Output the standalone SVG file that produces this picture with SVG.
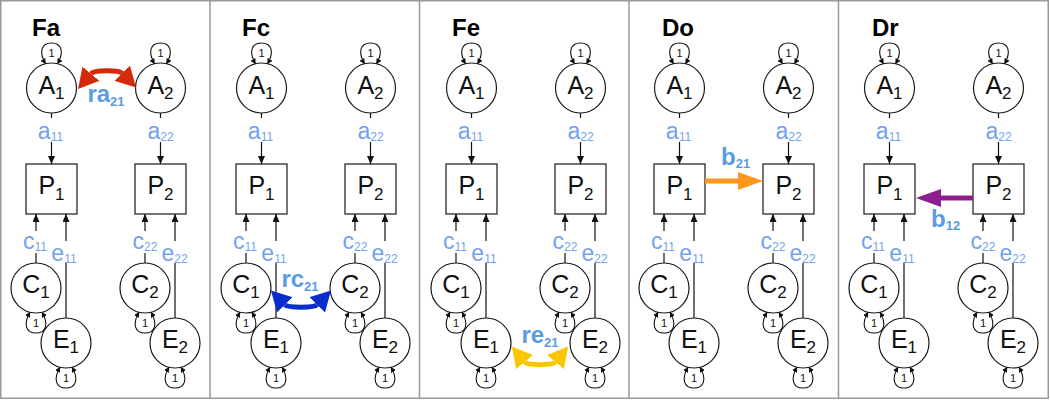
<svg xmlns="http://www.w3.org/2000/svg" width="1050" height="400" viewBox="0 0 1050 400">
<style>
.frame{fill:none;stroke:#9a9a9a;stroke-width:1.5}
.sep{stroke:#9a9a9a;stroke-width:1.5}
.node circle,.node rect{fill:#fff;stroke:#1a1a1a;stroke-width:1.2}
.nl{font-family:"Liberation Sans",Arial,sans-serif;font-size:25px;text-anchor:middle;fill:#111}
.ns{font-size:17px}
.title{font-family:"Liberation Sans",Arial,sans-serif;font-size:24px;font-weight:bold;fill:#000}
.pl{font-family:"Liberation Sans",Arial,sans-serif;font-size:23px;fill:#72a2ef;text-anchor:middle}
.ps{font-size:12px}
.bl{font-family:"Liberation Sans",Arial,sans-serif;font-size:24px;font-weight:bold;fill:#5b9be2}
.bs{font-size:13px}
.conn{fill:none;stroke:#111;stroke-width:1.2}
.loop{fill:none;stroke:#111;stroke-width:1.1}
.one{font-family:"Liberation Sans",Arial,sans-serif;font-size:11px;text-anchor:middle;fill:#111}
.thick{fill:none;stroke-width:5}
</style>
<defs>
<marker id="ah" markerUnits="userSpaceOnUse" markerWidth="8" markerHeight="7" refX="8" refY="3.5" orient="auto"><path d="M0,0 L8,3.5 L0,7 z" fill="#111"/></marker>
<marker id="lh" markerUnits="userSpaceOnUse" markerWidth="5.5" markerHeight="5.6" refX="5" refY="2.8" orient="auto-start-reverse"><path d="M0,0 L5.5,2.8 L0,5.6 z" fill="#111"/></marker>
<marker id="mred" markerUnits="userSpaceOnUse" markerWidth="20" markerHeight="22" refX="0" refY="11" orient="auto-start-reverse"><path d="M0,0 L20,11 L0,22 z" fill="#d42a0c"/></marker>
<marker id="mblue" markerUnits="userSpaceOnUse" markerWidth="20" markerHeight="22" refX="0" refY="11" orient="auto-start-reverse"><path d="M0,0 L20,11 L0,22 z" fill="#0b2dcc"/></marker>
<marker id="myel" markerUnits="userSpaceOnUse" markerWidth="20" markerHeight="22" refX="0" refY="11" orient="auto-start-reverse"><path d="M0,0 L20,11 L0,22 z" fill="#f9c600"/></marker>
<marker id="morg" markerUnits="userSpaceOnUse" markerWidth="25" markerHeight="18" refX="0" refY="9" orient="auto"><path d="M0,0 L25,9 L0,18 z" fill="#ff961e"/></marker>
<marker id="mpur" markerUnits="userSpaceOnUse" markerWidth="25" markerHeight="18" refX="0" refY="9" orient="auto"><path d="M0,0 L25,9 L0,18 z" fill="#8c1e8e"/></marker>
</defs>
<rect class="frame" x="0.75" y="0.75" width="1047.5" height="397.5"/>
<line class="sep" x1="210" y1="0" x2="210" y2="399"/>
<line class="sep" x1="419.5" y1="0" x2="419.5" y2="399"/>
<line class="sep" x1="629" y1="0" x2="629" y2="399"/>
<line class="sep" x1="838.5" y1="0" x2="838.5" y2="399"/>

<!-- Panel Fa -->
<g id="panel-fa" transform="translate(0,0)">
<text class="title" x="32" y="36">Fa</text>
<g id="fa-A1" class="node" transform="translate(51.5,88)"><circle r="25"/><text class="nl" y="6">A<tspan class="ns" dy="5">1</tspan></text></g>
<g id="fa-A2" class="node" transform="translate(160.5,88)"><circle r="25"/><text class="nl" y="6">A<tspan class="ns" dy="5">2</tspan></text></g>
<g id="fa-P1" class="node" transform="translate(51.5,189)"><rect x="-25.5" y="-25" width="51" height="50"/><text class="nl" y="5">P<tspan class="ns" dy="6">1</tspan></text></g>
<g id="fa-P2" class="node" transform="translate(160.5,189)"><rect x="-25.5" y="-25" width="51" height="50"/><text class="nl" y="5">P<tspan class="ns" dy="6">2</tspan></text></g>
<g id="fa-C1" class="node" transform="translate(36,288)"><circle r="25"/><text class="nl" y="5">C<tspan class="ns" dy="5">1</tspan></text></g>
<g id="fa-C2" class="node" transform="translate(145,288)"><circle r="25"/><text class="nl" y="5">C<tspan class="ns" dy="5">2</tspan></text></g>
<g id="fa-E1" class="node" transform="translate(66,343)"><circle r="25"/><text class="nl" y="5">E<tspan class="ns" dy="5">1</tspan></text></g>
<g id="fa-E2" class="node" transform="translate(175,343)"><circle r="25"/><text class="nl" y="5">E<tspan class="ns" dy="5">2</tspan></text></g>
<g id="fa-connectors">
<path class="conn" marker-end="url(#ah)" d="M51.5,113 V118 M51.5,142 V164"/>
<path class="conn" marker-end="url(#ah)" d="M160.5,113 V118 M160.5,142 V164"/>
<path class="conn" marker-end="url(#ah)" d="M36,263 V253 M36,231 V214"/>
<path class="conn" marker-end="url(#ah)" d="M66,318 V263 M66,241 V214"/>
<path class="conn" marker-end="url(#ah)" d="M145,263 V253 M145,231 V214"/>
<path class="conn" marker-end="url(#ah)" d="M175,318 V263 M175,241 V214"/>
<path class="loop" marker-start="url(#lh)" marker-end="url(#lh)" d="M45.5,63.7 C38.5,52 41.5,43 51.5,43 C61.5,43 64.5,52 57.5,63.7"/>
<path class="loop" marker-start="url(#lh)" marker-end="url(#lh)" d="M154.5,63.7 C147.5,52 150.5,43 160.5,43 C170.5,43 173.5,52 166.5,63.7"/>
<path class="loop" marker-start="url(#lh)" marker-end="url(#lh)" d="M30,312.3 C23,324 26,333 36,333 C46,333 49,324 42,312.3"/>
<path class="loop" marker-start="url(#lh)" marker-end="url(#lh)" d="M139,312.3 C132,324 135,333 145,333 C155,333 158,324 151,312.3"/>
<path class="loop" marker-start="url(#lh)" marker-end="url(#lh)" d="M60,367.3 C53,379 56,388 66,388 C76,388 79,379 72,367.3"/>
<path class="loop" marker-start="url(#lh)" marker-end="url(#lh)" d="M169,367.3 C162,379 165,388 175,388 C185,388 188,379 181,367.3"/>
<text class="one" x="51.5" y="57">1</text><text class="one" x="160.5" y="57">1</text>
<text class="one" x="36" y="327">1</text><text class="one" x="145" y="327">1</text>
<text class="one" x="66" y="382">1</text><text class="one" x="175" y="382">1</text>
<text class="pl" x="50.5" y="139">a<tspan class="ps" dy="2">11</tspan></text>
<text class="pl" x="160.5" y="139">a<tspan class="ps" dy="2">22</tspan></text>
<text class="pl" x="35" y="249">c<tspan class="ps" dy="2">11</tspan></text>
<text class="pl" x="64" y="261">e<tspan class="ps" dy="2">11</tspan></text>
<text class="pl" x="145" y="249">c<tspan class="ps" dy="2">22</tspan></text>
<text class="pl" x="174.5" y="261">e<tspan class="ps" dy="2">22</tspan></text>
<path class="thick" stroke="#d42a0c" marker-start="url(#mred)" marker-end="url(#mred)" d="M90.9,73.7 C94,70 119,70 122.1,73.2"/>
<text class="bl" x="106" y="102" text-anchor="middle">ra<tspan class="bs" dy="4">21</tspan></text>
</g>
</g>

<!-- Panel Fc -->
<g id="panel-fc" transform="translate(210,0)">
<text class="title" x="32" y="36">Fc</text>
<g id="fc-A1" class="node" transform="translate(51.5,88)"><circle r="25"/><text class="nl" y="6">A<tspan class="ns" dy="5">1</tspan></text></g>
<g id="fc-A2" class="node" transform="translate(160.5,88)"><circle r="25"/><text class="nl" y="6">A<tspan class="ns" dy="5">2</tspan></text></g>
<g id="fc-P1" class="node" transform="translate(51.5,189)"><rect x="-25.5" y="-25" width="51" height="50"/><text class="nl" y="5">P<tspan class="ns" dy="6">1</tspan></text></g>
<g id="fc-P2" class="node" transform="translate(160.5,189)"><rect x="-25.5" y="-25" width="51" height="50"/><text class="nl" y="5">P<tspan class="ns" dy="6">2</tspan></text></g>
<g id="fc-C1" class="node" transform="translate(36,288)"><circle r="25"/><text class="nl" y="5">C<tspan class="ns" dy="5">1</tspan></text></g>
<g id="fc-C2" class="node" transform="translate(145,288)"><circle r="25"/><text class="nl" y="5">C<tspan class="ns" dy="5">2</tspan></text></g>
<g id="fc-E1" class="node" transform="translate(66,343)"><circle r="25"/><text class="nl" y="5">E<tspan class="ns" dy="5">1</tspan></text></g>
<g id="fc-E2" class="node" transform="translate(175,343)"><circle r="25"/><text class="nl" y="5">E<tspan class="ns" dy="5">2</tspan></text></g>
<g id="fc-connectors">
<path class="conn" marker-end="url(#ah)" d="M51.5,113 V118 M51.5,142 V164"/>
<path class="conn" marker-end="url(#ah)" d="M160.5,113 V118 M160.5,142 V164"/>
<path class="conn" marker-end="url(#ah)" d="M36,263 V253 M36,231 V214"/>
<path class="conn" marker-end="url(#ah)" d="M66,318 V263 M66,241 V214"/>
<path class="conn" marker-end="url(#ah)" d="M145,263 V253 M145,231 V214"/>
<path class="conn" marker-end="url(#ah)" d="M175,318 V263 M175,241 V214"/>
<path class="loop" marker-start="url(#lh)" marker-end="url(#lh)" d="M45.5,63.7 C38.5,52 41.5,43 51.5,43 C61.5,43 64.5,52 57.5,63.7"/>
<path class="loop" marker-start="url(#lh)" marker-end="url(#lh)" d="M154.5,63.7 C147.5,52 150.5,43 160.5,43 C170.5,43 173.5,52 166.5,63.7"/>
<path class="loop" marker-start="url(#lh)" marker-end="url(#lh)" d="M30,312.3 C23,324 26,333 36,333 C46,333 49,324 42,312.3"/>
<path class="loop" marker-start="url(#lh)" marker-end="url(#lh)" d="M139,312.3 C132,324 135,333 145,333 C155,333 158,324 151,312.3"/>
<path class="loop" marker-start="url(#lh)" marker-end="url(#lh)" d="M60,367.3 C53,379 56,388 66,388 C76,388 79,379 72,367.3"/>
<path class="loop" marker-start="url(#lh)" marker-end="url(#lh)" d="M169,367.3 C162,379 165,388 175,388 C185,388 188,379 181,367.3"/>
<text class="one" x="51.5" y="57">1</text><text class="one" x="160.5" y="57">1</text>
<text class="one" x="36" y="327">1</text><text class="one" x="145" y="327">1</text>
<text class="one" x="66" y="382">1</text><text class="one" x="175" y="382">1</text>
<text class="pl" x="50.5" y="139">a<tspan class="ps" dy="2">11</tspan></text>
<text class="pl" x="160.5" y="139">a<tspan class="ps" dy="2">22</tspan></text>
<text class="pl" x="35" y="249">c<tspan class="ps" dy="2">11</tspan></text>
<text class="pl" x="64" y="261">e<tspan class="ps" dy="2">11</tspan></text>
<text class="pl" x="145" y="249">c<tspan class="ps" dy="2">22</tspan></text>
<text class="pl" x="174.5" y="261">e<tspan class="ps" dy="2">22</tspan></text>
<path class="thick" stroke="#0b2dcc" marker-start="url(#mblue)" marker-end="url(#mblue)" d="M74.9,304.8 C78,308 104,308 107.1,304.8"/>
<text class="bl" x="90" y="287" text-anchor="middle">rc<tspan class="bs" dy="4">21</tspan></text>
</g>
</g>

<!-- Panel Fe -->
<g id="panel-fe" transform="translate(420,0)">
<text class="title" x="32" y="36">Fe</text>
<g id="fe-A1" class="node" transform="translate(51.5,88)"><circle r="25"/><text class="nl" y="6">A<tspan class="ns" dy="5">1</tspan></text></g>
<g id="fe-A2" class="node" transform="translate(160.5,88)"><circle r="25"/><text class="nl" y="6">A<tspan class="ns" dy="5">2</tspan></text></g>
<g id="fe-P1" class="node" transform="translate(51.5,189)"><rect x="-25.5" y="-25" width="51" height="50"/><text class="nl" y="5">P<tspan class="ns" dy="6">1</tspan></text></g>
<g id="fe-P2" class="node" transform="translate(160.5,189)"><rect x="-25.5" y="-25" width="51" height="50"/><text class="nl" y="5">P<tspan class="ns" dy="6">2</tspan></text></g>
<g id="fe-C1" class="node" transform="translate(36,288)"><circle r="25"/><text class="nl" y="5">C<tspan class="ns" dy="5">1</tspan></text></g>
<g id="fe-C2" class="node" transform="translate(145,288)"><circle r="25"/><text class="nl" y="5">C<tspan class="ns" dy="5">2</tspan></text></g>
<g id="fe-E1" class="node" transform="translate(66,343)"><circle r="25"/><text class="nl" y="5">E<tspan class="ns" dy="5">1</tspan></text></g>
<g id="fe-E2" class="node" transform="translate(175,343)"><circle r="25"/><text class="nl" y="5">E<tspan class="ns" dy="5">2</tspan></text></g>
<g id="fe-connectors">
<path class="conn" marker-end="url(#ah)" d="M51.5,113 V118 M51.5,142 V164"/>
<path class="conn" marker-end="url(#ah)" d="M160.5,113 V118 M160.5,142 V164"/>
<path class="conn" marker-end="url(#ah)" d="M36,263 V253 M36,231 V214"/>
<path class="conn" marker-end="url(#ah)" d="M66,318 V263 M66,241 V214"/>
<path class="conn" marker-end="url(#ah)" d="M145,263 V253 M145,231 V214"/>
<path class="conn" marker-end="url(#ah)" d="M175,318 V263 M175,241 V214"/>
<path class="loop" marker-start="url(#lh)" marker-end="url(#lh)" d="M45.5,63.7 C38.5,52 41.5,43 51.5,43 C61.5,43 64.5,52 57.5,63.7"/>
<path class="loop" marker-start="url(#lh)" marker-end="url(#lh)" d="M154.5,63.7 C147.5,52 150.5,43 160.5,43 C170.5,43 173.5,52 166.5,63.7"/>
<path class="loop" marker-start="url(#lh)" marker-end="url(#lh)" d="M30,312.3 C23,324 26,333 36,333 C46,333 49,324 42,312.3"/>
<path class="loop" marker-start="url(#lh)" marker-end="url(#lh)" d="M139,312.3 C132,324 135,333 145,333 C155,333 158,324 151,312.3"/>
<path class="loop" marker-start="url(#lh)" marker-end="url(#lh)" d="M60,367.3 C53,379 56,388 66,388 C76,388 79,379 72,367.3"/>
<path class="loop" marker-start="url(#lh)" marker-end="url(#lh)" d="M169,367.3 C162,379 165,388 175,388 C185,388 188,379 181,367.3"/>
<text class="one" x="51.5" y="57">1</text><text class="one" x="160.5" y="57">1</text>
<text class="one" x="36" y="327">1</text><text class="one" x="145" y="327">1</text>
<text class="one" x="66" y="382">1</text><text class="one" x="175" y="382">1</text>
<text class="pl" x="50.5" y="139">a<tspan class="ps" dy="2">11</tspan></text>
<text class="pl" x="160.5" y="139">a<tspan class="ps" dy="2">22</tspan></text>
<text class="pl" x="35" y="249">c<tspan class="ps" dy="2">11</tspan></text>
<text class="pl" x="64" y="261">e<tspan class="ps" dy="2">11</tspan></text>
<text class="pl" x="145" y="249">c<tspan class="ps" dy="2">22</tspan></text>
<text class="pl" x="174.5" y="261">e<tspan class="ps" dy="2">22</tspan></text>
<path class="thick" stroke="#f9c600" marker-start="url(#myel)" marker-end="url(#myel)" d="M104.6,362 C107.5,365.5 132.5,365.5 135.4,362"/>
<text class="bl" x="120" y="343" text-anchor="middle">re<tspan class="bs" dy="4">21</tspan></text>
</g>
</g>

<!-- Panel Do -->
<g id="panel-do" transform="translate(628,0)">
<text class="title" x="34" y="36">Do</text>
<g id="do-A1" class="node" transform="translate(51.5,88)"><circle r="25"/><text class="nl" y="6">A<tspan class="ns" dy="5">1</tspan></text></g>
<g id="do-A2" class="node" transform="translate(160.5,88)"><circle r="25"/><text class="nl" y="6">A<tspan class="ns" dy="5">2</tspan></text></g>
<g id="do-P1" class="node" transform="translate(51.5,189)"><rect x="-25.5" y="-25" width="51" height="50"/><text class="nl" y="5">P<tspan class="ns" dy="6">1</tspan></text></g>
<g id="do-P2" class="node" transform="translate(160.5,189)"><rect x="-25.5" y="-25" width="51" height="50"/><text class="nl" y="5">P<tspan class="ns" dy="6">2</tspan></text></g>
<g id="do-C1" class="node" transform="translate(36,288)"><circle r="25"/><text class="nl" y="5">C<tspan class="ns" dy="5">1</tspan></text></g>
<g id="do-C2" class="node" transform="translate(145,288)"><circle r="25"/><text class="nl" y="5">C<tspan class="ns" dy="5">2</tspan></text></g>
<g id="do-E1" class="node" transform="translate(66,343)"><circle r="25"/><text class="nl" y="5">E<tspan class="ns" dy="5">1</tspan></text></g>
<g id="do-E2" class="node" transform="translate(175,343)"><circle r="25"/><text class="nl" y="5">E<tspan class="ns" dy="5">2</tspan></text></g>
<g id="do-connectors">
<path class="conn" marker-end="url(#ah)" d="M51.5,113 V118 M51.5,142 V164"/>
<path class="conn" marker-end="url(#ah)" d="M160.5,113 V118 M160.5,142 V164"/>
<path class="conn" marker-end="url(#ah)" d="M36,263 V253 M36,231 V214"/>
<path class="conn" marker-end="url(#ah)" d="M66,318 V263 M66,241 V214"/>
<path class="conn" marker-end="url(#ah)" d="M145,263 V253 M145,231 V214"/>
<path class="conn" marker-end="url(#ah)" d="M175,318 V263 M175,241 V214"/>
<path class="loop" marker-start="url(#lh)" marker-end="url(#lh)" d="M45.5,63.7 C38.5,52 41.5,43 51.5,43 C61.5,43 64.5,52 57.5,63.7"/>
<path class="loop" marker-start="url(#lh)" marker-end="url(#lh)" d="M154.5,63.7 C147.5,52 150.5,43 160.5,43 C170.5,43 173.5,52 166.5,63.7"/>
<path class="loop" marker-start="url(#lh)" marker-end="url(#lh)" d="M30,312.3 C23,324 26,333 36,333 C46,333 49,324 42,312.3"/>
<path class="loop" marker-start="url(#lh)" marker-end="url(#lh)" d="M139,312.3 C132,324 135,333 145,333 C155,333 158,324 151,312.3"/>
<path class="loop" marker-start="url(#lh)" marker-end="url(#lh)" d="M60,367.3 C53,379 56,388 66,388 C76,388 79,379 72,367.3"/>
<path class="loop" marker-start="url(#lh)" marker-end="url(#lh)" d="M169,367.3 C162,379 165,388 175,388 C185,388 188,379 181,367.3"/>
<text class="one" x="51.5" y="57">1</text><text class="one" x="160.5" y="57">1</text>
<text class="one" x="36" y="327">1</text><text class="one" x="145" y="327">1</text>
<text class="one" x="66" y="382">1</text><text class="one" x="175" y="382">1</text>
<text class="pl" x="50.5" y="139">a<tspan class="ps" dy="2">11</tspan></text>
<text class="pl" x="160.5" y="139">a<tspan class="ps" dy="2">22</tspan></text>
<text class="pl" x="35" y="249">c<tspan class="ps" dy="2">11</tspan></text>
<text class="pl" x="64" y="261">e<tspan class="ps" dy="2">11</tspan></text>
<text class="pl" x="145" y="249">c<tspan class="ps" dy="2">22</tspan></text>
<text class="pl" x="174.5" y="261">e<tspan class="ps" dy="2">22</tspan></text>
<path class="thick" stroke="#ff961e" marker-end="url(#morg)" d="M77,181 H110"/>
<text class="bl" x="93" y="165">b<tspan class="bs" dy="3">21</tspan></text>
</g>
</g>

<!-- Panel Dr -->
<g id="panel-dr" transform="translate(838,0)">
<text class="title" x="34" y="36">Dr</text>
<g id="dr-A1" class="node" transform="translate(51.5,88)"><circle r="25"/><text class="nl" y="6">A<tspan class="ns" dy="5">1</tspan></text></g>
<g id="dr-A2" class="node" transform="translate(160.5,88)"><circle r="25"/><text class="nl" y="6">A<tspan class="ns" dy="5">2</tspan></text></g>
<g id="dr-P1" class="node" transform="translate(51.5,189)"><rect x="-25.5" y="-25" width="51" height="50"/><text class="nl" y="5">P<tspan class="ns" dy="6">1</tspan></text></g>
<g id="dr-P2" class="node" transform="translate(160.5,189)"><rect x="-25.5" y="-25" width="51" height="50"/><text class="nl" y="5">P<tspan class="ns" dy="6">2</tspan></text></g>
<g id="dr-C1" class="node" transform="translate(36,288)"><circle r="25"/><text class="nl" y="5">C<tspan class="ns" dy="5">1</tspan></text></g>
<g id="dr-C2" class="node" transform="translate(145,288)"><circle r="25"/><text class="nl" y="5">C<tspan class="ns" dy="5">2</tspan></text></g>
<g id="dr-E1" class="node" transform="translate(66,343)"><circle r="25"/><text class="nl" y="5">E<tspan class="ns" dy="5">1</tspan></text></g>
<g id="dr-E2" class="node" transform="translate(175,343)"><circle r="25"/><text class="nl" y="5">E<tspan class="ns" dy="5">2</tspan></text></g>
<g id="dr-connectors">
<path class="conn" marker-end="url(#ah)" d="M51.5,113 V118 M51.5,142 V164"/>
<path class="conn" marker-end="url(#ah)" d="M160.5,113 V118 M160.5,142 V164"/>
<path class="conn" marker-end="url(#ah)" d="M36,263 V253 M36,231 V214"/>
<path class="conn" marker-end="url(#ah)" d="M66,318 V263 M66,241 V214"/>
<path class="conn" marker-end="url(#ah)" d="M145,263 V253 M145,231 V214"/>
<path class="conn" marker-end="url(#ah)" d="M175,318 V263 M175,241 V214"/>
<path class="loop" marker-start="url(#lh)" marker-end="url(#lh)" d="M45.5,63.7 C38.5,52 41.5,43 51.5,43 C61.5,43 64.5,52 57.5,63.7"/>
<path class="loop" marker-start="url(#lh)" marker-end="url(#lh)" d="M154.5,63.7 C147.5,52 150.5,43 160.5,43 C170.5,43 173.5,52 166.5,63.7"/>
<path class="loop" marker-start="url(#lh)" marker-end="url(#lh)" d="M30,312.3 C23,324 26,333 36,333 C46,333 49,324 42,312.3"/>
<path class="loop" marker-start="url(#lh)" marker-end="url(#lh)" d="M139,312.3 C132,324 135,333 145,333 C155,333 158,324 151,312.3"/>
<path class="loop" marker-start="url(#lh)" marker-end="url(#lh)" d="M60,367.3 C53,379 56,388 66,388 C76,388 79,379 72,367.3"/>
<path class="loop" marker-start="url(#lh)" marker-end="url(#lh)" d="M169,367.3 C162,379 165,388 175,388 C185,388 188,379 181,367.3"/>
<text class="one" x="51.5" y="57">1</text><text class="one" x="160.5" y="57">1</text>
<text class="one" x="36" y="327">1</text><text class="one" x="145" y="327">1</text>
<text class="one" x="66" y="382">1</text><text class="one" x="175" y="382">1</text>
<text class="pl" x="50.5" y="139">a<tspan class="ps" dy="2">11</tspan></text>
<text class="pl" x="160.5" y="139">a<tspan class="ps" dy="2">22</tspan></text>
<text class="pl" x="35" y="249">c<tspan class="ps" dy="2">11</tspan></text>
<text class="pl" x="64" y="261">e<tspan class="ps" dy="2">11</tspan></text>
<text class="pl" x="145" y="249">c<tspan class="ps" dy="2">22</tspan></text>
<text class="pl" x="174.5" y="261">e<tspan class="ps" dy="2">22</tspan></text>
<path class="thick" stroke="#8c1e8e" marker-end="url(#mpur)" d="M135,198 H103"/>
<text class="bl" x="93" y="227">b<tspan class="bs" dy="3">12</tspan></text>
</g>
</g>
</svg>
